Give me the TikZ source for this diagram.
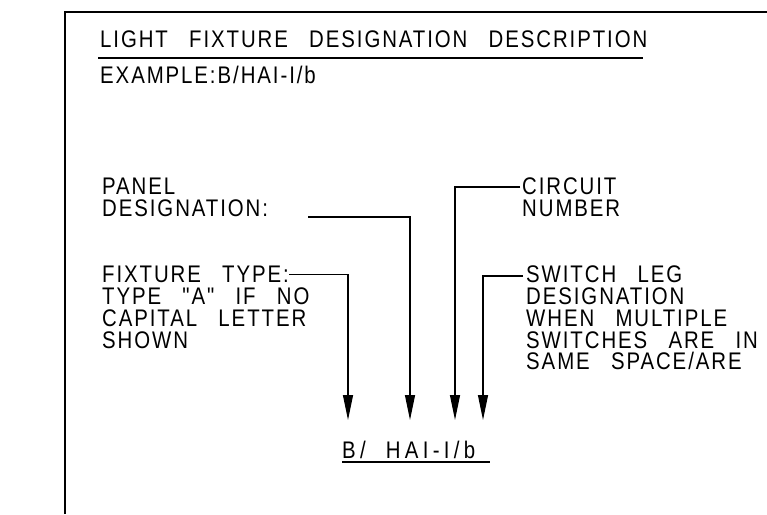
\documentclass[tikz,border=0pt]{standalone}
\usepackage{fontspec}
\usetikzlibrary{arrows.meta,positioning}
\newfontfamily\cadfont{Liberation Sans}[FakeStretch=0.85,LetterSpace=8,WordSpace=2.8]
\newfontfamily\cadwidefont{Liberation Sans}[FakeStretch=0.85,LetterSpace=18,WordSpace=2.6]
\tikzset{
  cadText/.style={anchor=north west, inner sep=0pt, align=left, font=\cadfont\fontsize{24}{21.7}\selectfont},
  cadLeader/.style={line width=1.2pt, -{Triangle[length=25pt, width=10pt]}},
  cadRule/.style={line width=1.5pt},
  cadFrame/.style={line width=2.4pt}
}
\begin{document}
\begin{tikzpicture}[x=1pt, y=-1pt]
  \useasboundingbox (0,0) rectangle (767,514);
  % sheet border
  \draw[cadFrame] (65,514) -- (65,12) -- (767,12);

  % heading
  \node[cadText] (title) at (100,31) {LIGHT FIXTURE DESIGNATION DESCRIPTION};
  \draw[cadRule] (98,58) -- (643,58);
  \node[cadText] (example) at (100,65.5) {EXAMPLE:\hskip2pt B/HAI-I/b};

  % left notes
  \node[cadText] (panel) at (102,178) {PANEL\\DESIGNATION:};
  \node[cadText] (fixtype) at (102,266) {FIXTURE TYPE:};
  \node[cadText] (fixnote) at (102,287.7) {TYPE "A" IF NO\\CAPITAL LETTER\\SHOWN};

  % right notes
  \node[cadText] (circuit) at (522,178) {CIRCUIT\\NUMBER};
  \node[cadText] (switchleg) at (526,266) {SWITCH LEG\\DESIGNATION\\WHEN MULTIPLE\\SWITCHES ARE IN\\SAME SPACE/ARE};

  % designation string
  \node[cadText, font=\cadwidefont\fontsize{24}{21.7}\selectfont] (code) at (342,441) {B/\hskip20pt HAI-I/b};
  \draw[cadRule] (342,462) -- (490,462);

  % arrow targets
  \coordinate (tipType) at (348,420);
  \coordinate (tipPanel) at (410,420);
  \coordinate (tipCircuit) at (455,420);
  \coordinate (tipSwitch) at (483,420);
  \coordinate (panelStart) at (308,217);
  \coordinate (circuitStart) at (520,187);
  \coordinate (switchStart) at (523,276);

  \draw[cadLeader] (fixtype.east) -| (tipType);
  \draw[cadLeader] (panelStart) -| (tipPanel);
  \draw[cadLeader] (circuitStart) -| (tipCircuit);
  \draw[cadLeader] (switchStart) -| (tipSwitch);
\end{tikzpicture}
\end{document}
